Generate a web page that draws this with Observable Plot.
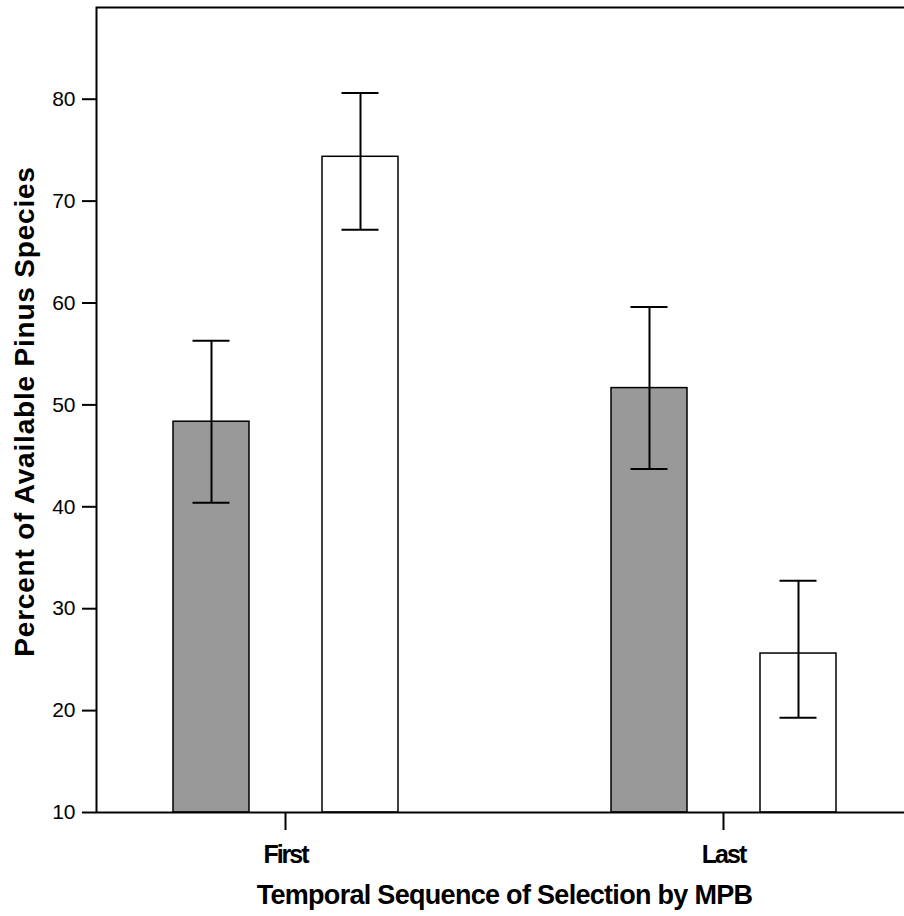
<!DOCTYPE html>
<html>
<head>
<meta charset="utf-8">
<script src="https://cdn.jsdelivr.net/npm/d3@7"></script>
<script src="https://cdn.jsdelivr.net/npm/@observablehq/plot@0.6"></script>
<style>
  html, body { margin: 0; padding: 0; background: white; overflow: hidden; }
  #chart svg { display: block; }
  [aria-label="fx-axis tick label"] text { letter-spacing: -2px; }
</style>
</head>
<body>
<div id="chart"></div>
<script>
// ---- data ----
const sequences = ["First", "Last"];
const series = ["Series A", "Series B"];        // grey bar, white bar
const seriesFill = ["#999999", "#ffffff"];
const greyMean  = [48.35, 51.65];
const greyLow   = [40.4, 43.7];
const greyHigh  = [56.3, 59.6];
const whiteMean = [74.35, 25.6];
const whiteLow  = [67.2, 19.3];
const whiteHigh = [80.6, 32.75];
const yDomain = [10, 89];
const yTicks = [10, 20, 30, 40, 50, 60, 70, 80];
const xTitle = "Temporal Sequence of Selection by MPB";
const yTitle = "Percent of Available Pinus Species";

const rows = [];
sequences.forEach((s, i) => {
  rows.push({seq: s, series: series[0], mean: greyMean[i], low: greyLow[i], high: greyHigh[i]});
  rows.push({seq: s, series: series[1], mean: whiteMean[i], low: whiteLow[i], high: whiteHigh[i]});
});

const chart = Plot.plot({
  width: 912,
  height: 916,
  marginLeft: 96,
  marginRight: 0,
  marginTop: 7,
  marginBottom: 104,
  style: {fontFamily: "'Liberation Sans', Arial, sans-serif", background: "white", maxWidth: "none", color: "black"},
  fx: {domain: sequences, paddingInner: 0.137, paddingOuter: 0, axis: null},
  x: {domain: series, paddingInner: 0.49, paddingOuter: 0.513, axis: null},
  y: {domain: yDomain, axis: null},
  color: {domain: series, range: seriesFill},
  marks: [
    Plot.barY(rows, {fx: "seq", x: "series", y1: () => yDomain[0], y2: "mean", fill: "series", stroke: "black", strokeWidth: 1.5}),
    Plot.ruleX(rows, {fx: "seq", x: "series", y1: "low", y2: "high", stroke: "black", strokeWidth: 2}),
    Plot.tickY(rows, {fx: "seq", x: "series", y: "high", stroke: "black", strokeWidth: 2, insetLeft: 19.5, insetRight: 19.5}),
    Plot.tickY(rows, {fx: "seq", x: "series", y: "low", stroke: "black", strokeWidth: 2, insetLeft: 19.5, insetRight: 19.5}),
    Plot.frame({facet: "super", stroke: "black", strokeWidth: 2}),
    Plot.axisY({ticks: yTicks, tickSize: 14, tickPadding: 7, strokeWidth: 2, fontSize: 21, label: null}),
    Plot.axisFx({anchor: "bottom", tickSize: 18, tickPadding: 15, strokeWidth: 2, fontSize: 25, fontWeight: "bold", label: null, lineAnchor: "top"}),
    Plot.text([xTitle], {facet: "super", frameAnchor: "bottom", lineAnchor: "top", dy: 72, fontSize: 27, fontWeight: "bold", fill: "black"}),
    Plot.text([yTitle], {facet: "super", frameAnchor: "left", textAnchor: "middle", rotate: -90, lineAnchor: "middle", dx: -71, dy: 1.5, fontSize: 28, fontWeight: "bold", fill: "black"})
  ]
});
d3.select(chart).selectAll("text")
  .filter(function() { return this.textContent === xTitle; })
  .style("letter-spacing", "-0.7px");
d3.select(chart).selectAll("text")
  .filter(function() { return this.textContent === yTitle; })
  .style("letter-spacing", "0.8px");
document.getElementById("chart").appendChild(chart);
</script>
</body>
</html>
